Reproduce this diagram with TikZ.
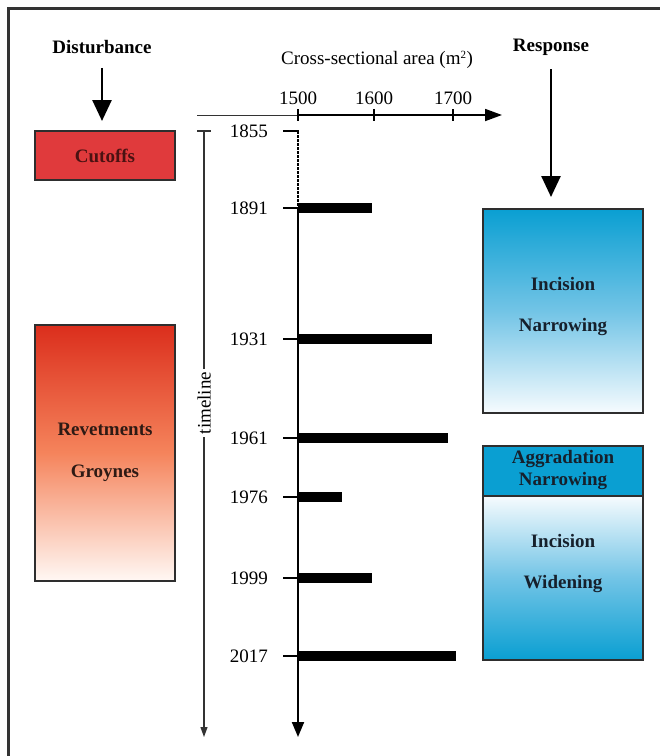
\documentclass[tikz,border=0pt]{standalone}
\usepackage{fontspec}
\setmainfont{Liberation Serif}
\usetikzlibrary{arrows.meta}
\definecolor{frameC}{HTML}{333333}
\definecolor{boxline}{HTML}{2E2E2E}
\definecolor{cutRed}{HTML}{E03A3C}
\definecolor{revTop}{HTML}{DB2E1C}
\definecolor{revMid}{HTML}{F5845C}
\definecolor{revBot}{HTML}{FFF8F4}
\definecolor{blueA}{HTML}{0A9FD2}
\definecolor{blueM}{HTML}{72C4E6}
\definecolor{blueW}{HTML}{F6FBFE}
\definecolor{redText}{HTML}{4A1212}
\definecolor{brownText}{HTML}{2E1A14}
\definecolor{navyText}{HTML}{16202C}
\begin{document}
\begin{tikzpicture}[x=1pt,y=-1pt,
  lbl/.style={font=\fontsize{19}{22}\selectfont, inner sep=0pt},
  blbl/.style={font=\fontsize{19}{22}\selectfont\bfseries, inner sep=0pt},
  box/.style={draw=boxline, line width=2pt, inner sep=0pt},
  bigarrow/.style={line width=2.6pt, -{Triangle[length=21pt,width=19pt]}},
  barbox/.style={fill=black, inner sep=0pt, outer sep=0pt, minimum height=10pt, anchor=west},
  tickline/.style={line width=1.6pt}
]
\useasboundingbox (0,0) rectangle (660,756);
\fill[white] (0,0) rectangle (660,756);
% frame
\draw[line width=3pt, frameC] (8,756) -- (8,8) -- (660,8);

% headings
\node[blbl] (dist) at (102,47) {Disturbance};
\node[blbl] (resp) at (551,47) {Response};
\node[lbl] (xlab) at (377,60) {Cross-sectional area (m\textsuperscript{\fontsize{11}{12}\selectfont 2})};

% disturbance boxes
\node[box, fill=cutRed, minimum width=140pt, minimum height=49pt] (cut) at (105,155.5) {};
\node[blbl, text=redText] (cutt) at (105,156) {Cutoffs};
\node[box, top color=revTop, bottom color=revBot, middle color=revMid, minimum width=140pt, minimum height=256pt] (rev) at (105,453) {};
\node[blbl, text=brownText] (revt1) at (105,429) {Revetments};
\node[blbl, text=brownText] (revt2) at (105,473) {Groynes};

% response boxes
\node[box, top color=blueA, bottom color=blueW, middle color=blueM, minimum width=160pt, minimum height=204pt] (inc1) at (563,311) {};
\node[blbl, text=navyText] (inc1a) at (563,284) {Incision};
\node[blbl, text=navyText] (inc1b) at (563,327) {Narrowing};
\node[box, fill=blueA, minimum width=160pt, minimum height=50pt] (agg) at (563,471) {};
\node[blbl, text=navyText] (agga) at (563,459) {Aggradation};
\node[blbl, text=navyText] (aggb) at (563,481) {Narrowing};
\node[box, top color=blueW, bottom color=blueA, middle color=blueM, minimum width=160pt, minimum height=164pt] (inc2) at (563,578) {};
\node[blbl, text=navyText] (inc2a) at (563,541) {Incision};
\node[blbl, text=navyText] (inc2b) at (563,584) {Widening};

% big arrows
\draw[bigarrow] ([yshift=-14pt]dist.south) -- ([yshift=9pt]dist.south |- cut.north);
\draw[bigarrow] ([yshift=-14pt]resp.south) -- ([yshift=11pt]resp.south |- inc1.north);

% horizontal axis
\coordinate (hax0) at (197,115);
\coordinate (t1500) at (298,115);
\coordinate (t1600) at (374,115);
\coordinate (t1700) at (453,115);
\coordinate (hax1) at (502,115);
\draw[line width=0.9pt, frameC] (hax0) -- (t1500);
\draw[line width=1.8pt, -{Triangle[length=17pt,width=12pt]}] (t1500) -- (hax1);
\foreach \t in {1500,1600,1700}{
  \draw[tickline] ([yshift=6pt]t\t) -- ([yshift=-6pt]t\t);
}
\node[lbl] (l1500) at (298,98) {1500};
\node[lbl] (l1600) at (374,98) {1600};
\node[lbl] (l1700) at (453,98) {1700};

% timeline axis
\coordinate (tl0) at (204,131);
\coordinate (tlend) at (204,737);
\draw[line width=1.1pt, frameC, -{Triangle[length=10pt,width=7pt]}] (tl0) -- (tlend);
\draw[line width=1.1pt, frameC] ([xshift=-7pt]tl0) -- ([xshift=7pt]tl0);
\node[lbl, rotate=90, fill=white, inner xsep=3pt, inner ysep=1pt] (tl) at (204,403) {timeline};

% main axis
\coordinate (m1855) at (298,131);
\coordinate (m1891) at (298,208);
\coordinate (mend) at (298,737);
\draw[line width=1.6pt, dash pattern=on 2.5pt off 1.5pt] (m1855) -- (m1891);
\draw[line width=2pt, -{Triangle[length=15pt,width=12pt]}] (m1891) -- (mend);
\draw[tickline] ([xshift=-15pt]m1855) -- ([xshift=0.8pt]m1855);
\node[lbl, anchor=east] (y1855) at (268,131) {1855};

\foreach \yr/\yy/\len in {1891/208/74, 1931/339/134, 1961/438/150, 1976/497/44, 1999/578/74, 2017/656/158}{
  \coordinate (m\yr) at (298,\yy);
  \draw[tickline] ([xshift=-15pt]m\yr) -- (m\yr);
  \node[barbox, minimum width=\len pt] (b\yr) at (m\yr) {};
  \node[lbl, anchor=east] (y\yr) at (268,\yy) {\yr};
}
\end{tikzpicture}
\end{document}
